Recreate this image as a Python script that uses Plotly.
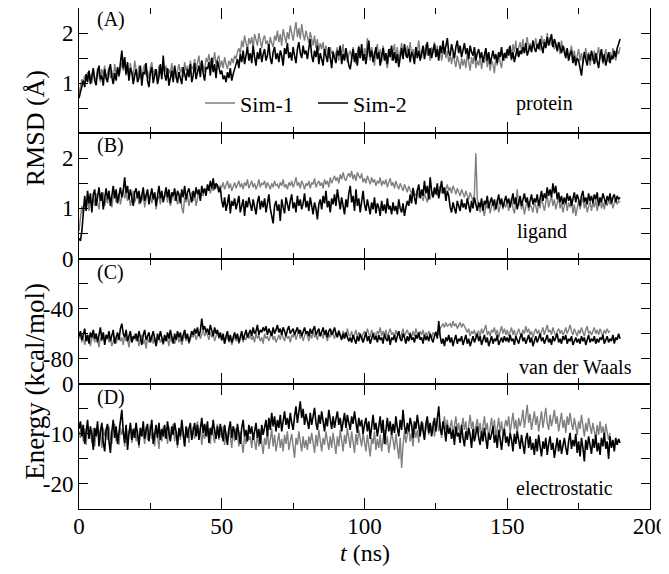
import plotly.graph_objects as go
from plotly.subplots import make_subplots

# time grid (ns), sampled every 0.5 ns
t_ns = [i * 0.5 for i in range(380)]

# (A) protein RMSD (Angstrom)
prot_sim1 = [
    0.80, 0.95, 1.08, 1.00, 1.15, 1.05, 1.22, 1.10, 1.18, 1.00,
    1.25, 1.12, 1.05, 1.30, 1.18, 1.02, 1.28, 1.15, 1.35, 1.08,
    1.20, 1.32, 1.10, 1.25, 1.05, 1.38, 1.18, 1.28, 1.12, 1.30,
    1.42, 1.25, 1.35, 1.15, 1.30, 1.08, 1.40, 1.20, 1.12, 1.45,
    1.22, 1.10, 1.35, 1.18, 1.05, 1.28, 1.38, 1.15, 1.25, 1.08,
    1.32, 1.42, 1.15, 1.28, 1.20, 1.05, 1.35, 1.25, 1.12, 1.30,
    1.22, 1.35, 1.10, 1.28, 1.18, 1.40, 1.15, 1.30, 1.08, 1.25,
    1.38, 1.20, 1.32, 1.12, 1.42, 1.25, 1.35, 1.18, 1.45, 1.28,
    1.32, 1.48, 1.25, 1.40, 1.55, 1.30, 1.45, 1.35, 1.22, 1.50,
    1.42, 1.58, 1.35, 1.52, 1.40, 1.62, 1.38, 1.48, 1.55, 1.32,
    1.45, 1.30, 1.52, 1.38, 1.28, 1.45, 1.35, 1.50, 1.40, 1.55,
    1.48, 1.62, 1.70, 1.58, 1.85, 1.72, 1.95, 1.80, 1.68, 1.90,
    1.78, 1.92, 1.70, 1.98, 1.85, 1.75, 2.00, 1.82, 1.70, 1.88,
    1.95, 1.78, 1.85, 1.68, 1.92, 1.80, 1.72, 1.95, 1.85, 2.05,
    1.82, 1.98, 1.75, 2.08, 1.90, 1.80, 2.02, 1.88, 2.15, 1.95,
    1.85, 2.05, 2.22, 1.92, 2.10, 1.88, 2.18, 1.98, 1.85, 2.05,
    1.92, 1.80, 2.02, 1.85, 1.75, 1.95, 1.70, 1.88, 1.65, 1.80,
    1.68, 1.82, 1.58, 1.75, 1.62, 1.50, 1.72, 1.58, 1.65, 1.48,
    1.60, 1.72, 1.45, 1.68, 1.55, 1.78, 1.50, 1.62, 1.42, 1.58,
    1.65, 1.48, 1.72, 1.55, 1.38, 1.62, 1.75, 1.50, 1.68, 1.45,
    1.70, 1.55, 1.90, 1.62, 1.45, 1.72, 1.58, 1.35, 1.65, 1.78,
    1.52, 1.68, 1.42, 1.75, 1.60, 1.48, 1.30, 1.55, 1.70, 1.45,
    1.62, 1.78, 1.50, 1.72, 1.45, 1.65, 1.80, 1.58, 1.70, 1.52,
    1.75, 1.60, 1.82, 1.55, 1.68, 1.48, 1.72, 1.62, 1.85, 1.58,
    1.50, 1.70, 1.62, 1.78, 1.55, 1.68, 1.45, 1.72, 1.60, 1.82,
    1.58, 1.75, 1.52, 1.68, 1.45, 1.62, 1.72, 1.50, 1.65, 1.42,
    1.55, 1.38, 1.60, 1.45, 1.32, 1.55, 1.40, 1.28, 1.50, 1.35,
    1.48, 1.30, 1.58, 1.42, 1.25, 1.52, 1.38, 1.60, 1.30, 1.45,
    1.35, 1.55, 1.28, 1.48, 1.40, 1.62, 1.32, 1.50, 1.25, 1.45,
    1.38, 1.20, 1.52, 1.35, 1.60, 1.42, 1.30, 1.55, 1.45, 1.62,
    1.50, 1.72, 1.58, 1.45, 1.78, 1.62, 1.85, 1.55, 1.70, 1.82,
    1.65, 1.88, 1.60, 1.75, 1.92, 1.68, 1.80, 1.62, 1.85, 1.72,
    1.90, 1.70, 1.82, 1.65, 1.95, 1.78, 1.88, 1.72, 2.00, 1.80,
    1.92, 1.75, 1.85, 1.68, 1.80, 1.62, 1.75, 1.58, 1.85, 1.65,
    1.72, 1.55, 1.68, 1.48, 1.62, 1.75, 1.50, 1.65, 1.42, 1.58,
    1.68, 1.45, 1.60, 1.38, 1.55, 1.70, 1.48, 1.62, 1.35, 1.52,
    1.45, 1.65, 1.40, 1.58, 1.72, 1.48, 1.60, 1.38, 1.55, 1.68,
    1.50, 1.42, 1.62, 1.48, 1.70, 1.55, 1.45, 1.65, 1.58, 1.72,
]
prot_sim2 = [
    0.70, 0.82, 0.95, 1.05, 0.92, 1.18, 1.02, 1.25, 0.98, 1.12,
    1.30, 1.05, 0.96, 1.22, 1.35, 1.08, 1.15, 0.95, 1.28, 1.10,
    1.02, 1.25, 1.38, 1.12, 0.98, 1.20, 1.05, 1.32, 1.15, 1.40,
    1.65, 1.30, 1.52, 1.18, 1.42, 1.05, 1.30, 1.22, 0.98, 1.15,
    1.28, 1.02, 1.10, 1.35, 0.95, 1.22, 1.18, 1.40, 1.05, 0.92,
    1.20, 1.32, 1.00, 1.15, 1.28, 0.98, 1.12, 1.38, 1.08, 1.55,
    1.18, 1.05, 1.30, 0.95, 1.12, 1.25, 1.02, 1.35, 1.15, 1.00,
    1.22, 1.10, 0.98, 1.32, 1.18, 1.05, 1.28, 1.12, 1.38, 1.02,
    1.15, 1.40, 1.08, 1.25, 1.35, 1.12, 1.45, 1.20, 1.05, 1.32,
    1.28, 1.42, 1.15, 1.50, 1.22, 1.38, 1.10, 1.45, 1.30, 1.18,
    1.25, 1.08, 1.15, 1.02, 1.22, 1.10, 1.30, 1.05, 1.18, 1.28,
    1.35, 1.48, 1.30, 1.58, 1.42, 1.65, 1.38, 1.55, 1.72, 1.45,
    1.60, 1.40, 1.75, 1.52, 1.35, 1.62, 1.48, 1.70, 1.42, 1.58,
    1.68, 1.45, 1.55, 1.78, 1.50, 1.38, 1.62, 1.72, 1.48, 1.60,
    1.42, 1.65, 1.55, 1.35, 1.70, 1.58, 1.80, 1.50, 1.62, 1.45,
    1.72, 1.55, 1.40, 1.68, 1.82, 1.60, 1.50, 1.75, 1.58, 1.65,
    1.48, 1.70, 1.88, 1.55, 1.42, 1.65, 1.52, 1.75, 1.38, 1.60,
    1.50, 1.35, 1.68, 1.55, 1.42, 1.72, 1.48, 1.30, 1.62, 1.52,
    1.40, 1.65, 1.55, 1.75, 1.38, 1.58, 1.45, 1.70, 1.52, 1.35,
    1.28, 1.55, 1.68, 1.42, 1.60, 1.35, 1.72, 1.50, 1.78, 1.45,
    1.58, 1.38, 1.70, 1.85, 1.52, 1.65, 1.42, 1.58, 1.72, 1.48,
    1.62, 1.35, 1.55, 1.70, 1.45, 1.60, 1.38, 1.68, 1.52, 1.75,
    1.45, 1.62, 1.40, 1.58, 1.32, 1.55, 1.70, 1.48, 1.78, 1.58,
    1.50, 1.68, 1.42, 1.62, 1.55, 1.38, 1.72, 1.50, 1.65, 1.45,
    1.60, 1.75, 1.48, 1.65, 1.82, 1.55, 1.70, 1.50, 1.62, 1.78,
    1.52, 1.68, 1.45, 1.75, 1.60, 1.85, 1.58, 1.72, 1.90, 1.62,
    1.55, 1.78, 1.62, 1.50, 1.72, 1.85, 1.60, 1.75, 1.52, 1.68,
    1.80, 1.58, 1.70, 1.48, 1.75, 1.62, 1.55, 1.72, 1.45, 1.60,
    1.68, 1.50, 1.62, 1.42, 1.58, 1.70, 1.45, 1.62, 1.38, 1.55,
    1.65, 1.48, 1.58, 1.40, 1.62, 1.52, 1.72, 1.45, 1.60, 1.50,
    1.68, 1.55, 1.75, 1.48, 1.62, 1.42, 1.58, 1.70, 1.52, 1.65,
    1.58, 1.72, 1.60, 1.80, 1.55, 1.68, 1.75, 1.62, 1.85, 1.70,
    1.62, 1.78, 1.68, 1.88, 1.72, 1.60, 1.82, 1.70, 1.92, 1.75,
    1.85, 1.98, 1.72, 1.88, 1.78, 1.65, 1.82, 1.70, 1.60, 1.75,
    1.62, 1.50, 1.70, 1.45, 1.58, 1.65, 1.40, 1.55, 1.35, 1.50,
    1.45, 1.30, 1.15, 1.42, 1.62, 1.48, 1.35, 1.58, 1.45, 1.65,
    1.52, 1.38, 1.60, 1.45, 1.30, 1.55, 1.68, 1.42, 1.58, 1.35,
    1.50, 1.62, 1.40, 1.55, 1.48, 1.65, 1.52, 1.70, 1.78, 1.88,
]

# (B) ligand RMSD (Angstrom)
lig_sim1 = [
    0.55, 0.80, 1.05, 0.90, 1.15, 1.00, 1.25, 0.95, 1.18, 1.08,
    1.22, 1.05, 1.30, 1.12, 0.98, 1.25, 1.15, 1.32, 1.05, 1.20,
    1.10, 1.28, 1.18, 1.02, 1.25, 1.35, 1.12, 1.22, 1.30, 1.08,
    1.25, 1.38, 1.20, 1.30, 1.15, 1.28, 1.05, 1.22, 1.35, 1.12,
    1.20, 1.32, 1.08, 1.25, 1.15, 1.30, 1.02, 1.22, 1.35, 1.18,
    1.28, 1.10, 1.22, 1.32, 0.98, 1.18, 1.25, 1.08, 1.30, 1.15,
    1.22, 1.35, 1.12, 1.28, 1.05, 1.20, 1.32, 1.15, 1.25, 1.08,
    1.18, 1.30, 1.02, 0.90, 1.22, 1.12, 1.28, 1.05, 1.20, 1.32,
    1.15, 1.28, 1.05, 1.22, 1.35, 1.18, 1.30, 1.25, 1.40, 1.32,
    1.38, 1.45, 1.30, 1.42, 1.35, 1.50, 1.40, 1.48, 1.38, 1.45,
    1.42, 1.52, 1.38, 1.48, 1.55, 1.40, 1.50, 1.35, 1.45, 1.52,
    1.40, 1.48, 1.55, 1.42, 1.50, 1.38, 1.52, 1.45, 1.58, 1.40,
    1.48, 1.55, 1.42, 1.50, 1.38, 1.45, 1.58, 1.42, 1.50, 1.48,
    1.55, 1.40, 1.52, 1.45, 1.38, 1.50, 1.42, 1.55, 1.45, 1.48,
    1.40, 1.52, 1.45, 1.58, 1.42, 1.48, 1.38, 1.52, 1.45, 1.55,
    1.42, 1.50, 1.62, 1.45, 1.52, 1.40, 1.55, 1.48, 1.38, 1.50,
    1.45, 1.55, 1.40, 1.52, 1.48, 1.60, 1.42, 1.50, 1.55, 1.45,
    1.52, 1.40, 1.58, 1.48, 1.55, 1.42, 1.62, 1.50, 1.58, 1.65,
    1.55, 1.62, 1.50, 1.68, 1.58, 1.72, 1.60, 1.55, 1.65, 1.70,
    1.62, 1.75, 1.58, 1.68, 1.55, 1.72, 1.65, 1.60, 1.70, 1.52,
    1.60, 1.50, 1.65, 1.55, 1.48, 1.62, 1.52, 1.58, 1.45, 1.55,
    1.50, 1.62, 1.45, 1.55, 1.48, 1.58, 1.42, 1.52, 1.60, 1.45,
    1.52, 1.40, 1.55, 1.45, 1.38, 1.50, 1.42, 1.35, 1.48, 1.40,
    1.32, 1.45, 1.38, 1.28, 1.42, 1.30, 1.25, 1.38, 1.22, 1.32,
    1.25, 1.15, 1.30, 1.20, 1.12, 1.28, 1.18, 1.35, 1.22, 1.30,
    1.40, 1.25, 1.35, 1.45, 1.30, 1.42, 1.28, 1.38, 1.48, 1.35,
    1.42, 1.30, 1.45, 1.38, 1.28, 1.40, 1.32, 1.25, 1.38, 1.30,
    1.22, 1.35, 1.28, 1.18, 1.32, 1.25, 1.15, 1.28, 2.10, 1.20,
    1.05, 0.92, 1.10, 0.98, 0.85, 1.08, 1.00, 1.15, 0.90, 1.05,
    1.12, 0.95, 1.08, 1.18, 0.92, 1.05, 1.15, 0.98, 1.10, 1.02,
    1.15, 0.95, 1.08, 1.20, 1.00, 0.90, 1.12, 1.38, 1.05, 1.15,
    0.98, 1.10, 0.88, 1.05, 1.18, 0.95, 1.08, 1.02, 0.92, 1.12,
    1.05, 0.90, 1.15, 1.00, 1.22, 1.08, 0.95, 1.12, 1.28, 1.02,
    1.15, 1.25, 1.05, 1.18, 0.98, 1.10, 1.22, 1.00, 1.12, 0.92,
    1.08, 1.18, 0.95, 1.12, 1.02, 1.20, 0.90, 1.08, 0.85, 1.05,
    1.15, 0.98, 1.10, 1.22, 1.00, 1.12, 0.92, 1.05, 1.15, 0.95,
    1.12, 1.02, 1.18, 0.95, 1.10, 1.20, 1.00, 1.12, 0.98, 1.15,
    1.05, 1.18, 1.08, 1.15, 1.00, 1.12, 1.20, 1.08, 1.15, 1.12,
]
lig_sim2 = [
    0.40, 0.35, 0.55, 1.00, 1.25, 0.95, 1.35, 1.10, 1.30, 0.92,
    1.28, 1.38, 1.05, 1.22, 1.42, 1.15, 1.32, 0.98, 1.25, 1.40,
    1.18, 1.35, 1.05, 1.30, 1.45, 1.20, 1.38, 1.10, 1.28, 1.42,
    1.22, 1.35, 1.62, 1.30, 1.45, 1.18, 1.38, 1.25, 1.05, 1.32,
    1.40, 1.20, 1.35, 1.10, 1.28, 1.42, 1.15, 1.30, 1.38, 1.08,
    1.25, 1.40, 1.18, 1.32, 1.05, 1.28, 1.45, 1.20, 1.35, 1.12,
    1.30, 1.42, 1.22, 1.38, 1.10, 1.32, 1.25, 1.40, 1.15, 1.35,
    1.28, 1.10, 1.38, 1.22, 1.45, 1.18, 1.32, 1.40, 1.25, 1.12,
    1.35, 1.22, 1.42, 1.28, 1.38, 1.15, 1.45, 1.30, 1.40, 1.25,
    1.48, 1.35, 1.55, 1.40, 1.60, 1.38, 1.50, 1.45, 1.32, 1.42,
    1.15, 1.02, 1.22, 0.95, 1.10, 1.28, 0.90, 1.15, 1.05, 1.20,
    0.98, 1.12, 1.25, 0.92, 1.08, 1.18, 0.85, 1.15, 1.02, 1.22,
    1.08, 0.95, 1.18, 1.05, 0.88, 1.12, 1.25, 0.98, 1.15, 1.02,
    1.20, 0.92, 1.10, 1.28, 1.00, 0.82, 0.70, 1.05, 1.15, 0.95,
    1.08, 0.75, 1.18, 1.02, 0.90, 1.22, 1.08, 0.95, 1.15, 1.28,
    1.00, 1.12, 0.92, 1.25, 1.05, 1.18, 0.98, 1.10, 1.30, 1.02,
    1.15, 0.95, 1.22, 1.05, 0.88, 1.12, 1.00, 0.78, 1.08, 1.18,
    0.98, 1.25, 1.10, 1.35, 1.02, 1.15, 0.92, 1.20, 1.08, 1.28,
    1.05, 1.38, 1.15, 0.98, 1.22, 1.08, 0.88, 1.18, 1.02, 1.30,
    1.45, 1.12, 1.25, 0.95, 1.38, 1.05, 1.20, 0.92, 1.15, 1.35,
    1.08, 0.95, 1.18, 1.02, 0.88, 1.12, 0.98, 1.22, 0.90, 1.10,
    1.02, 0.85, 1.15, 0.95, 1.08, 0.90, 1.20, 0.98, 1.05, 0.88,
    1.12, 0.95, 1.05, 0.88, 1.18, 1.00, 0.92, 1.10, 0.85, 1.02,
    1.15, 1.05, 1.28, 1.10, 1.40, 1.22, 1.08, 1.35, 1.48, 1.20,
    1.38, 1.25, 1.55, 1.30, 1.45, 1.18, 1.62, 1.35, 1.22, 1.42,
    1.28, 1.50, 1.20, 1.38, 1.55, 1.30, 1.42, 1.15, 1.35, 1.25,
    1.02, 0.92, 1.12, 1.00, 0.90, 1.15, 1.05, 0.95, 1.18, 1.02,
    1.10, 0.98, 1.20, 1.05, 0.92, 1.15, 1.00, 1.22, 1.08, 0.95,
    1.12, 1.02, 1.20, 0.95, 1.15, 1.08, 1.25, 1.00, 1.12, 1.22,
    1.05, 1.18, 0.98, 1.15, 1.28, 1.08, 1.20, 1.02, 1.15, 1.25,
    1.10, 1.20, 1.02, 1.18, 1.30, 1.08, 1.22, 0.98, 1.15, 1.25,
    1.05, 1.18, 1.30, 1.12, 1.22, 1.02, 1.15, 1.28, 1.08, 1.20,
    1.12, 1.28, 1.05, 1.22, 1.35, 1.15, 1.30, 1.20, 1.42, 1.25,
    1.38, 1.22, 1.50, 1.30, 1.45, 1.18, 1.32, 1.12, 1.25, 1.08,
    1.22, 1.10, 1.30, 1.15, 1.25, 1.05, 1.20, 1.32, 1.12, 1.28,
    1.18, 1.05, 1.25, 1.35, 1.12, 1.22, 1.08, 1.30, 1.15, 1.25,
    1.10, 1.28, 1.18, 1.32, 1.05, 1.22, 1.12, 1.30, 1.20, 1.08,
    1.25, 1.15, 1.30, 1.10, 1.22, 1.28, 1.12, 1.25, 1.18, 1.22,
]

# (C) van der Waals energy (kcal/mol); Sim-1 stops at 186 ns
vdw_sim1 = [
    -64, -60, -67, -62, -69, -63, -66, -61, -70, -64,
    -62, -67, -60, -65, -71, -63, -66, -59, -68, -64,
    -61, -67, -63, -70, -65, -62, -68, -64, -60, -66,
    -63, -69, -61, -66, -64, -71, -62, -67, -65, -60,
    -66, -63, -70, -64, -61, -68, -65, -72, -63, -67,
    -64, -61, -68, -63, -70, -65, -62, -67, -64, -69,
    -62, -66, -64, -70, -61, -67, -63, -68, -65, -62,
    -67, -63, -69, -64, -60, -66, -62, -68, -64, -61,
    -63, -59, -65, -61, -58, -64, -60, -57, -62, -59,
    -61, -65, -59, -63, -60, -66, -62, -58, -64, -61,
    -66, -62, -68, -64, -61, -67, -63, -69, -65, -62,
    -66, -63, -68, -64, -61, -67, -63, -65, -60, -64,
    -61, -65, -62, -67, -59, -64, -61, -66, -63, -68,
    -60, -64, -62, -66, -61, -58, -65, -62, -67, -63,
    -61, -65, -59, -63, -66, -60, -64, -62, -67, -61,
    -63, -59, -65, -61, -57, -64, -60, -66, -62, -58,
    -62, -66, -60, -64, -58, -63, -61, -65, -59, -62,
    -60, -64, -58, -62, -66, -60, -63, -57, -61, -64,
    -59, -62, -57, -61, -64, -58, -60, -63, -56, -61,
    -62, -58, -64, -60, -57, -63, -59, -61, -65, -60,
    -58, -62, -56, -60, -63, -57, -61, -59, -64, -58,
    -60, -55, -62, -58, -61, -57, -63, -59, -56, -61,
    -59, -63, -57, -61, -58, -64, -60, -56, -62, -59,
    -57, -61, -59, -63, -58, -62, -56, -60, -63, -58,
    -61, -57, -63, -59, -62, -58, -60, -64, -59, -61,
    -58, -62, -60, -56, -54, -52, -55, -51, -54, -53,
    -52, -55, -50, -54, -52, -56, -53, -51, -55, -52,
    -54, -57, -59, -56, -62, -58, -60, -57, -63, -59,
    -58, -62, -56, -60, -57, -53, -61, -58, -62, -57,
    -59, -55, -61, -57, -63, -58, -54, -60, -56, -61,
    -57, -62, -58, -55, -61, -57, -63, -59, -56, -60,
    -62, -57, -60, -54, -59, -56, -61, -58, -63, -59,
    -56, -60, -57, -62, -58, -55, -61, -57, -53, -59,
    -57, -61, -55, -59, -62, -58, -56, -60, -57, -61,
    -59, -55, -60, -57, -53, -58, -61, -56, -59, -62,
    -57, -60, -55, -59, -62, -57, -54, -60, -58, -61,
    -58, -55, -60, -57, -61, -56, -59, -62, -57, -60,
    -56, -59, -58,
]
vdw_sim2 = [
    -62, -58, -65, -60, -56, -66, -61, -68, -59, -63,
    -57, -64, -60, -67, -62, -55, -65, -59, -69, -61,
    -64, -58, -66, -61, -57, -68, -62, -59, -65, -56,
    -52, -60, -63, -57, -66, -61, -58, -67, -62, -64,
    -60, -66, -58, -63, -69, -61, -57, -65, -62, -59,
    -67, -62, -58, -64, -70, -60, -65, -58, -63, -68,
    -61, -66, -59, -64, -57, -62, -68, -60, -65, -58,
    -63, -59, -66, -61, -57, -64, -60, -67, -62, -58,
    -61, -56, -60, -55, -62, -58, -48, -57, -54, -59,
    -56, -61, -53, -58, -62, -55, -60, -57, -63, -59,
    -65, -60, -68, -62, -58, -66, -61, -67, -63, -59,
    -64, -60, -67, -62, -58, -65, -61, -57, -63, -59,
    -57, -62, -55, -60, -58, -53, -61, -57, -59, -55,
    -58, -54, -61, -56, -59, -62, -55, -60, -57, -53,
    -59, -56, -61, -55, -58, -62, -57, -54, -60, -58,
    -56, -61, -58, -55, -60, -57, -62, -59, -55, -60,
    -58, -62, -56, -60, -57, -54, -61, -58, -56, -62,
    -59, -55, -61, -57, -63, -58, -56, -61, -59, -55,
    -60, -63, -58, -62, -65, -60, -64, -59, -62, -66,
    -63, -67, -61, -65, -68, -62, -66, -60, -64, -67,
    -63, -59, -66, -62, -68, -64, -60, -65, -62, -67,
    -61, -65, -63, -68, -60, -64, -66, -61, -69, -63,
    -65, -61, -67, -62, -58, -64, -66, -60, -63, -68,
    -62, -66, -60, -65, -63, -67, -61, -64, -59, -65,
    -63, -68, -61, -65, -62, -66, -60, -64, -67, -62,
    -59, -64, -50, -62, -68, -64, -70, -63, -66, -61,
    -67, -63, -70, -65, -61, -68, -64, -66, -62, -69,
    -65, -61, -68, -64, -70, -66, -62, -67, -64, -60,
    -66, -62, -69, -64, -61, -67, -63, -70, -65, -62,
    -68, -64, -66, -61, -69, -65, -63, -67, -62, -66,
    -63, -67, -61, -66, -64, -69, -62, -65, -68, -63,
    -60, -66, -63, -68, -64, -61, -67, -63, -70, -65,
    -62, -67, -64, -60, -66, -63, -68, -64, -61, -67,
    -64, -69, -62, -66, -63, -60, -67, -64, -68, -62,
    -65, -61, -68, -64, -66, -62, -69, -65, -63, -67,
    -64, -68, -62, -66, -63, -69, -65, -61, -67, -64,
    -66, -62, -68, -64, -67, -63, -65, -61, -68, -64,
    -62, -67, -64, -66, -61, -68, -63, -65, -60, -64,
]

# (D) electrostatic energy (kcal/mol); Sim-1 stops at 186 ns
elec_sim1 = [
    -9.5, -10.8, -8.2, -11.5, -9.0, -12.2, -8.5, -10.2, -9.8, -11.8,
    -8.8, -12.5, -9.5, -8.2, -11.0, -9.2, -12.8, -8.8, -10.5, -9.0,
    -11.2, -8.5, -10.8, -12.0, -9.2, -8.0, -11.5, -9.8, -12.2, -8.8,
    -10.2, -9.0, -12.5, -8.5, -11.0, -9.5, -8.2, -11.8, -10.0, -8.8,
    -11.5, -9.2, -12.8, -8.8, -10.5, -9.8, -12.0, -8.5, -11.2, -9.5,
    -8.2, -11.0, -9.8, -12.5, -8.8, -10.2, -13.0, -9.2, -11.5, -8.5,
    -10.8, -9.2, -12.0, -8.5, -11.2, -9.8, -8.0, -11.5, -9.5, -12.8,
    -9.0, -11.2, -8.2, -10.5, -12.5, -9.5, -8.8, -11.8, -9.2, -10.2,
    -8.5, -11.0, -9.2, -7.5, -10.8, -8.8, -12.2, -9.5, -11.0, -8.2,
    -10.5, -9.0, -12.0, -8.5, -10.2, -11.8, -9.2, -8.0, -11.2, -9.5,
    -10.8, -8.5, -12.2, -9.8, -11.0, -8.8, -10.5, -12.8, -9.2, -11.5,
    -8.8, -10.2, -12.5, -9.5, -11.8, -13.8, -10.2, -12.0, -9.5, -11.2,
    -10.5, -12.8, -9.8, -11.5, -13.2, -10.0, -12.5, -9.5, -11.8, -14.0,
    -10.8, -12.2, -9.5, -13.0, -11.2, -9.0, -12.5, -10.2, -13.5, -11.0,
    -9.8, -12.8, -11.0, -13.5, -10.2, -12.0, -9.5, -13.2, -11.5, -10.0,
    -12.5, -14.8, -10.8, -12.2, -9.5, -11.8, -13.5, -10.5, -12.8, -11.2,
    -13.2, -10.5, -12.0, -9.8, -11.5, -13.8, -10.2, -12.5, -9.2, -11.8,
    -13.5, -10.8, -12.2, -9.5, -11.0, -13.2, -10.5, -12.8, -9.8, -11.5,
    -14.0, -10.5, -12.5, -9.2, -11.8, -13.5, -10.2, -12.0, -8.8, -11.2,
    -12.8, -9.5, -11.5, -13.8, -10.0, -12.2, -9.2, -11.0, -12.5, -9.8,
    -11.8, -13.5, -10.2, -12.5, -14.5, -10.8, -12.0, -9.5, -13.2, -11.0,
    -12.8, -10.2, -13.5, -11.0, -9.2, -12.2, -10.5, -13.8, -11.5, -9.8,
    -11.2, -13.2, -10.0, -12.5, -15.0, -10.8, -16.8, -12.2, -9.5, -11.8,
    -10.2, -8.5, -11.5, -9.8, -12.5, -8.8, -10.8, -9.2, -11.8, -8.2,
    -9.5, -7.8, -10.8, -8.5, -7.2, -10.2, -8.0, -9.8, -7.5, -10.5,
    -8.2, -6.8, -9.5, -7.8, -10.8, -8.5, -6.5, -9.2, -7.2, -10.0,
    -8.5, -7.2, -10.2, -8.0, -6.5, -9.5, -7.8, -10.5, -8.2, -6.8,
    -9.2, -7.5, -10.8, -8.2, -6.2, -9.0, -7.5, -10.2, -8.5, -7.0,
    -9.8, -7.8, -10.5, -8.8, -6.5, -9.2, -7.8, -11.0, -8.2, -6.8,
    -9.5, -7.2, -10.8, -8.5, -6.8, -9.8, -7.5, -10.2, -8.8, -7.2,
    -8.5, -6.5, -9.8, -7.8, -5.8, -9.0, -7.2, -10.0, -6.8, -8.5,
    -7.2, -5.2, -8.8, -6.5, -4.2, -7.8, -6.0, -9.2, -7.0, -5.5,
    -8.2, -6.5, -9.5, -7.2, -5.5, -8.8, -6.8, -4.8, -7.8, -9.2,
    -6.2, -8.5, -7.0, -5.2, -8.0, -6.5, -9.5, -7.5, -5.8, -8.8,
    -7.2, -9.8, -6.5, -8.2, -5.8, -7.8, -9.2, -6.8, -8.5, -10.2,
    -7.5, -9.0, -6.2, -8.5, -10.5, -7.8, -9.5, -6.8, -8.2, -10.0,
    -7.8, -9.5, -11.0, -8.2, -10.2, -7.5, -9.8, -8.5, -10.8, -8.0,
    -9.5, -11.2, -9.8,
]
elec_sim2 = [
    -9.0, -7.5, -10.5, -8.2, -12.0, -9.0, -7.2, -11.0, -8.5, -10.2,
    -13.2, -8.8, -10.5, -7.5, -12.5, -9.5, -7.8, -11.8, -13.5, -9.2,
    -8.0, -11.5, -13.8, -9.5, -7.2, -10.8, -8.5, -12.0, -9.8, -7.5,
    -5.2, -9.5, -11.8, -8.2, -13.2, -10.0, -7.8, -11.2, -9.0, -10.8,
    -7.8, -10.2, -12.2, -8.8, -10.5, -7.5, -11.0, -9.2, -8.0, -11.5,
    -9.5, -7.2, -12.0, -9.8, -8.2, -10.8, -7.8, -11.2, -9.0, -10.5,
    -8.2, -11.0, -7.5, -9.8, -11.5, -8.5, -10.2, -7.8, -9.5, -12.2,
    -8.8, -10.5, -7.2, -9.8, -12.5, -8.5, -10.8, -9.0, -7.8, -11.2,
    -9.5, -7.8, -10.5, -8.2, -11.2, -9.0, -6.8, -9.8, -8.0, -10.5,
    -7.5, -11.8, -8.8, -10.2, -7.2, -9.5, -11.0, -8.5, -10.8, -8.0,
    -9.8, -11.5, -8.2, -10.5, -12.2, -9.0, -7.5, -10.8, -8.5, -9.5,
    -11.2, -8.0, -10.2, -12.0, -8.8, -7.2, -10.5, -9.2, -11.5, -8.2,
    -10.0, -8.5, -11.2, -9.5, -7.8, -10.8, -9.0, -12.0, -8.2, -10.2,
    -9.0, -7.2, -10.5, -6.8, -9.2, -5.8, -8.5, -6.5, -9.5, -7.2,
    -8.8, -6.2, -9.5, -7.5, -5.5, -8.2, -6.8, -9.0, -5.8, -7.8,
    -9.2, -6.5, -4.5, -7.8, -5.2, -3.5, -6.8, -5.0, -8.2, -6.0,
    -7.5, -9.0, -5.8, -8.2, -6.5, -4.8, -7.8, -9.2, -6.2, -8.0,
    -5.5, -7.8, -9.5, -6.8, -8.5, -5.2, -7.2, -9.0, -6.5, -8.8,
    -7.0, -5.5, -8.2, -6.8, -9.5, -7.5, -5.8, -8.8, -6.2, -7.8,
    -9.2, -6.5, -8.0, -5.5, -7.8, -9.8, -6.8, -8.5, -7.2, -10.0,
    -8.2, -6.8, -9.5, -7.5, -11.0, -8.0, -6.2, -9.2, -7.8, -10.5,
    -8.5, -6.5, -9.8, -7.2, -12.0, -8.8, -6.8, -9.5, -7.5, -10.2,
    -8.0, -9.8, -6.5, -8.8, -10.5, -7.2, -9.2, -5.2, -8.5, -10.0,
    -7.8, -9.5, -6.8, -8.2, -10.8, -7.5, -9.0, -6.2, -8.8, -10.5,
    -7.5, -9.2, -11.2, -8.0, -6.5, -9.8, -7.8, -10.5, -8.5, -6.8,
    -9.5, -7.2, -4.5, -8.8, -10.2, -7.5, -9.0, -11.5, -8.2, -10.0,
    -8.8, -11.0, -9.2, -12.2, -8.5, -10.5, -9.8, -11.8, -8.2, -10.8,
    -12.5, -9.5, -11.2, -8.8, -10.2, -12.8, -9.0, -11.5, -10.0, -8.5,
    -10.8, -12.2, -9.5, -11.5, -8.8, -10.5, -13.0, -9.8, -11.2, -10.0,
    -8.5, -11.8, -10.2, -12.8, -9.2, -11.0, -13.2, -10.5, -9.0, -11.8,
    -10.5, -12.5, -9.8, -11.2, -13.5, -10.0, -12.0, -9.5, -11.5, -13.0,
    -10.2, -12.2, -14.0, -11.0, -9.8, -12.8, -10.5, -13.2, -11.8, -14.2,
    -11.0, -13.5, -10.2, -12.5, -14.5, -11.5, -13.0, -10.8, -14.2, -12.0,
    -10.5, -13.2, -11.8, -14.8, -12.2, -10.8, -13.5, -11.2, -14.0, -12.5,
    -10.8, -12.8, -14.2, -11.5, -9.8, -13.0, -11.2, -12.5, -10.0, -13.8,
    -11.5, -14.5, -10.8, -12.8, -15.5, -11.2, -13.2, -10.5, -12.2, -14.0,
    -11.0, -12.8, -10.2, -13.5, -11.8, -14.2, -10.8, -12.5, -9.8, -13.0,
    -11.5, -15.0, -10.5, -12.8, -11.2, -13.5, -10.8, -12.2, -11.0, -11.8,
]

panel_labels = ["(A)", "(B)", "(C)", "(D)"]
panel_names = ["protein", "ligand", "van der Waals", "electrostatic"]

GRAY = "#7f7f7f"
FONT = "Liberation Serif, Times New Roman, DejaVu Serif, serif"

fig = make_subplots(rows=4, cols=1, shared_xaxes=True, vertical_spacing=0)

panels = [
    (prot_sim1, prot_sim2),
    (lig_sim1, lig_sim2),
    (vdw_sim1, vdw_sim2),
    (elec_sim1, elec_sim2),
]
for i, (s1, s2) in enumerate(panels):
    fig.add_trace(go.Scatter(x=t_ns[:len(s1)], y=s1, mode="lines", name="Sim-1",
                             line=dict(color=GRAY, width=1.4), showlegend=(i == 0)),
                  row=i + 1, col=1)
    fig.add_trace(go.Scatter(x=t_ns[:len(s2)], y=s2, mode="lines", name="Sim-2",
                             line=dict(color="black", width=1.6), showlegend=(i == 0)),
                  row=i + 1, col=1)

axis_common = dict(showline=True, linecolor="black", linewidth=1, mirror="ticks",
                   ticks="inside", tickcolor="black", showgrid=False, zeroline=False,
                   tickfont=dict(family=FONT, size=23, color="black"))

for r in range(1, 5):
    fig.update_xaxes(range=[0, 200], dtick=50, tick0=0, ticklen=11, tickwidth=1.2,
                     showticklabels=(r == 4), ticklabelstandoff=-4,
                     minor=dict(dtick=25, tick0=0, ticks="inside", ticklen=6,
                                tickcolor="black", tickwidth=1.2),
                     row=r, col=1, **axis_common)

fig.update_yaxes(range=[0, 2.5], tickvals=[0.5, 1, 1.5, 2], ticktext=["", "1", "", "2"],
                 ticklen=9, row=1, col=1, **axis_common)
fig.update_yaxes(range=[0, 2.5], tickvals=[0, 0.5, 1, 1.5, 2], ticktext=["0", "", "1", "", "2"],
                 ticklen=9, row=2, col=1, **axis_common)
fig.update_yaxes(range=[-100, 0], tickvals=[-80, -60, -40, -20], ticktext=["-80", "", "-40", ""],
                 ticklen=9, row=3, col=1, **axis_common)
fig.update_yaxes(range=[-25, 0], tickvals=[-20, -15, -10, -5, 0], ticktext=["-20", "", "-10", "", "0"],
                 ticklen=9, row=4, col=1, **axis_common)

annotations = []
letter_y = [0.977, 0.726, 0.473, 0.222]
for lab, yy in zip(panel_labels, letter_y):
    annotations.append(dict(text=lab, x=0.028, y=yy, xref="paper", yref="paper",
                            xanchor="left", yanchor="middle", showarrow=False,
                            font=dict(family=FONT, size=20, color="black")))
name_pos = [(0.816, 0.810), (0.811, 0.553), (0.869, 0.283), (0.851, 0.042)]
for nm, (xx, yy) in zip(panel_names, name_pos):
    annotations.append(dict(text=nm, x=xx, y=yy, xref="paper", yref="paper",
                            xanchor="center", yanchor="middle", showarrow=False,
                            font=dict(family=FONT, size=20, color="black")))
annotations.append(dict(text="RMSD (Å)", x=-0.077, y=0.760, xref="paper", yref="paper",
                        textangle=-90, showarrow=False, xanchor="center", yanchor="middle",
                        font=dict(family=FONT, size=26, color="black")))
annotations.append(dict(text="Energy (kcal/mol)", x=-0.077, y=0.254, xref="paper", yref="paper",
                        textangle=-90, showarrow=False, xanchor="center", yanchor="middle",
                        font=dict(family=FONT, size=27, color="black")))
annotations.append(dict(text="<i>t</i> (ns)", x=0.5, y=-0.088, xref="paper", yref="paper",
                        showarrow=False, xanchor="center", yanchor="middle",
                        font=dict(family=FONT, size=24, color="black")))

fig.update_layout(
    width=661, height=558,
    margin=dict(l=71, r=19, t=0, b=57, autoexpand=False),
    plot_bgcolor="white", paper_bgcolor="white",
    font=dict(family=FONT, color="black"),
    annotations=annotations,
    legend=dict(orientation="h", x=0.212, y=0.81, xanchor="left", yanchor="middle",
                bgcolor="rgba(0,0,0,0)", font=dict(family=FONT, size=22, color="black"),
                itemwidth=30, entrywidth=68, tracegroupgap=0),
)

fig.write_html("out.html")
